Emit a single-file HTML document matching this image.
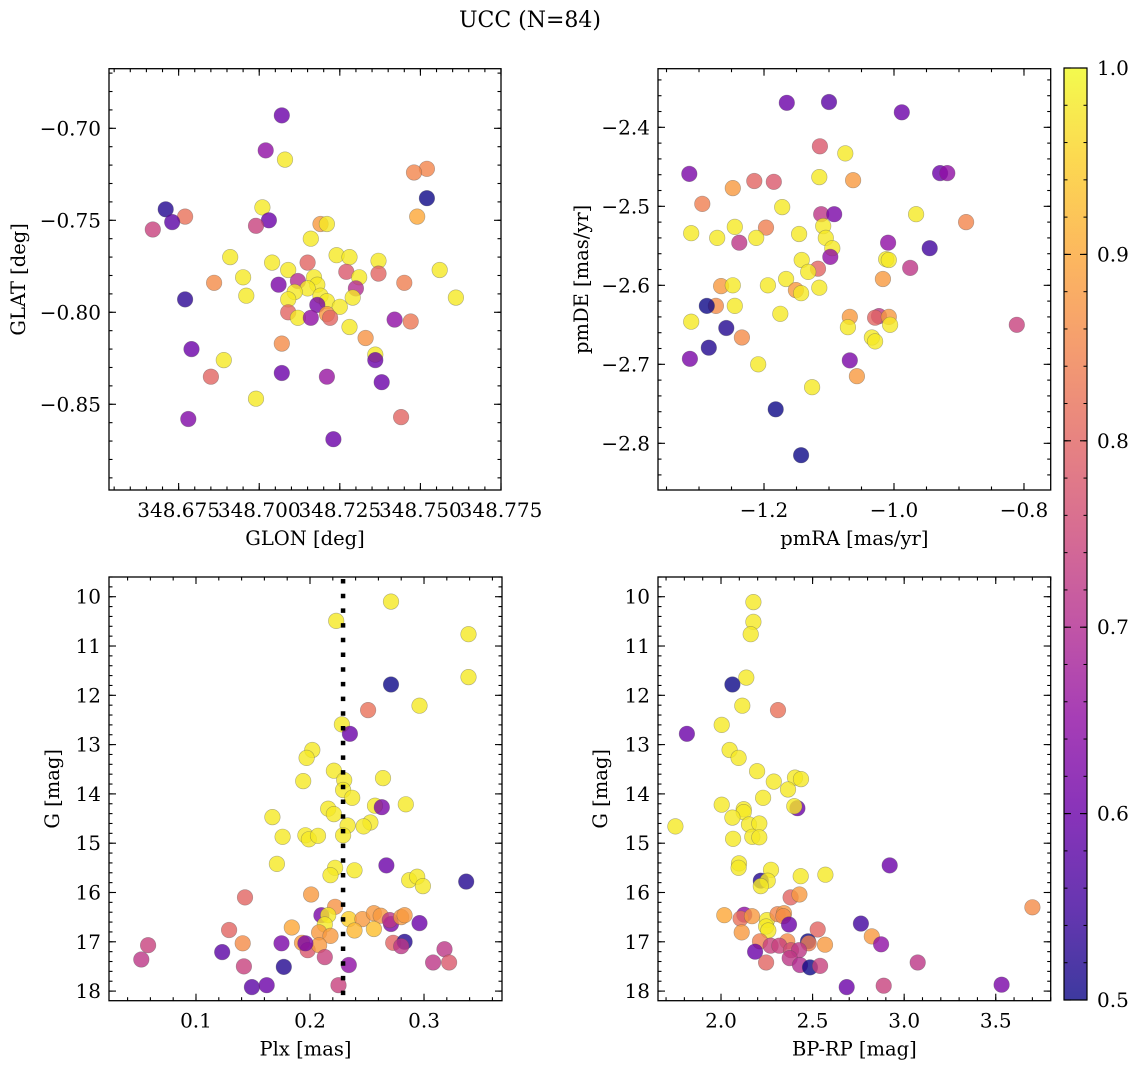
<!DOCTYPE html>
<html><head><meta charset="utf-8"><style>
html,body{margin:0;padding:0;background:#fff;}
svg{display:block;font-family:"DejaVu Serif","Liberation Serif",serif;}
</style></head><body>
<svg id="fig" width="1136" height="1067" viewBox="0 0 1136 1067" xmlns="http://www.w3.org/2000/svg">
<defs>
<linearGradient id="plasma" x1="0" y1="1" x2="0" y2="0">
<stop offset="0" stop-color="#0d0887"/><stop offset="0.1" stop-color="#41049d"/><stop offset="0.2" stop-color="#6a00a8"/><stop offset="0.3" stop-color="#8f0da4"/><stop offset="0.4" stop-color="#b12a90"/><stop offset="0.5" stop-color="#cc4778"/><stop offset="0.6" stop-color="#e16462"/><stop offset="0.7" stop-color="#f2844b"/><stop offset="0.8" stop-color="#fca636"/><stop offset="0.9" stop-color="#fcce25"/><stop offset="1" stop-color="#f0f921"/>
</linearGradient>
</defs>
<text x="530" y="27" font-size="22" text-anchor="middle">UCC (N=84)</text>
</svg>
<script>
// ---- Panel 1: GLON vs GLAT ----
const p1_glon=[348.707,348.702,348.708,348.752,348.748,348.752,348.671,348.677,348.701,348.703,348.673,348.667,348.749,348.719,348.721,348.699,348.716,348.724,348.728,348.704,348.691,348.737,348.715,348.709,348.756,348.727,348.737,348.731,348.717,348.686,348.706,348.695,348.712,348.718,348.715,348.711,348.745,348.696,348.730,348.719,348.729,348.677,348.709,348.721,348.761,348.718,348.725,348.709,348.712,348.721,348.722,348.716,348.742,348.747,348.728,348.733,348.707,348.679,348.736,348.736,348.689,348.685,348.707,348.721,348.738,348.699,348.744,348.678,348.723];
const p1_glat=[-0.693,-0.712,-0.717,-0.722,-0.724,-0.738,-0.744,-0.748,-0.743,-0.750,-0.751,-0.755,-0.748,-0.752,-0.752,-0.753,-0.760,-0.769,-0.770,-0.773,-0.770,-0.772,-0.773,-0.777,-0.777,-0.778,-0.779,-0.781,-0.781,-0.784,-0.785,-0.781,-0.783,-0.785,-0.787,-0.789,-0.784,-0.791,-0.787,-0.791,-0.792,-0.793,-0.793,-0.794,-0.792,-0.796,-0.797,-0.800,-0.803,-0.801,-0.803,-0.803,-0.804,-0.805,-0.808,-0.814,-0.817,-0.820,-0.823,-0.826,-0.826,-0.835,-0.833,-0.835,-0.838,-0.847,-0.857,-0.858,-0.869];
const p1_prob=[0.6,0.65,0.98,0.85,0.85,0.5,0.52,0.82,0.98,0.6,0.58,0.74,0.9,0.88,0.98,0.74,0.98,0.98,0.98,0.98,0.98,0.98,0.8,0.98,0.98,0.78,0.8,0.98,0.98,0.86,0.62,0.98,0.7,0.98,0.98,0.98,0.84,0.98,0.7,0.98,0.98,0.53,0.98,0.98,0.98,0.62,0.98,0.8,0.98,0.88,0.8,0.65,0.65,0.83,0.98,0.87,0.86,0.6,0.98,0.6,0.98,0.8,0.6,0.66,0.6,0.98,0.8,0.63,0.6];
const p1_xticks=[348.675,348.700,348.725,348.750,348.775];
const p1_yticks=[-0.70,-0.75,-0.80,-0.85];
// ---- Panel 2: pmRA vs pmDE ----
const p2_pmra=[-1.165,-1.100,-0.988,-1.315,-1.114,-1.075,-1.115,-1.063,-1.215,-1.185,-1.248,-1.295,-1.172,-0.929,-0.918,-0.966,-0.889,-1.112,-1.092,-1.312,-1.245,-1.197,-1.109,-1.146,-1.212,-1.105,-1.272,-1.095,-1.238,-0.945,-1.009,-1.012,-1.098,-1.142,-1.008,-0.975,-1.117,-1.132,-1.017,-1.166,-1.194,-1.151,-1.266,-1.248,-1.143,-1.274,-1.312,-1.175,-1.245,-1.068,-1.023,-1.029,-1.008,-1.006,-1.071,-1.288,-1.115,-1.258,-1.034,-1.029,-1.314,-1.285,-1.234,-1.068,-1.209,-1.057,-1.126,-1.182,-1.143,-0.811];
const p2_pmde=[-2.369,-2.368,-2.381,-2.459,-2.424,-2.433,-2.463,-2.467,-2.468,-2.469,-2.477,-2.497,-2.501,-2.458,-2.458,-2.510,-2.520,-2.510,-2.510,-2.534,-2.526,-2.527,-2.525,-2.535,-2.540,-2.540,-2.540,-2.553,-2.546,-2.553,-2.546,-2.567,-2.564,-2.568,-2.568,-2.578,-2.579,-2.583,-2.592,-2.592,-2.600,-2.606,-2.601,-2.600,-2.610,-2.626,-2.646,-2.636,-2.626,-2.640,-2.639,-2.641,-2.640,-2.650,-2.653,-2.626,-2.603,-2.654,-2.666,-2.671,-2.693,-2.679,-2.666,-2.695,-2.700,-2.715,-2.729,-2.757,-2.815,-2.650];
const p2_prob=[0.6,0.58,0.6,0.62,0.78,0.98,0.98,0.88,0.8,0.78,0.88,0.84,0.98,0.6,0.65,0.98,0.85,0.72,0.62,0.98,0.98,0.84,0.98,0.98,0.98,0.98,0.98,0.98,0.72,0.55,0.65,0.98,0.65,0.98,0.98,0.72,0.8,0.98,0.88,0.98,0.98,0.88,0.88,0.98,0.98,0.86,0.98,0.98,0.98,0.88,0.72,0.8,0.88,0.98,0.98,0.5,0.98,0.52,0.98,0.98,0.62,0.52,0.86,0.62,0.98,0.88,0.98,0.5,0.5,0.74];
const p2_xticks=[-1.2,-1.0,-0.8];
const p2_yticks=[-2.4,-2.5,-2.6,-2.7,-2.8];
// ---- Panel 3: Plx vs G ----
const p3_plx=[0.271,0.223,0.339,0.339,0.271,0.251,0.296,0.228,0.235,0.202,0.197,0.221,0.230,0.264,0.194,0.229,0.237,0.284,0.257,0.263,0.216,0.221,0.167,0.253,0.247,0.233,0.196,0.199,0.207,0.176,0.229,0.171,0.267,0.222,0.218,0.239,0.287,0.294,0.299,0.337,0.143,0.201,0.222,0.210,0.216,0.234,0.246,0.256,0.262,0.271,0.270,0.280,0.283,0.296,0.184,0.213,0.208,0.218,0.239,0.256,0.129,0.193,0.141,0.175,0.198,0.208,0.196,0.273,0.283,0.280,0.058,0.052,0.123,0.318,0.322,0.308,0.142,0.177,0.213,0.234,0.149,0.162,0.225];
const p3_g=[10.10,10.49,10.76,11.63,11.78,12.30,12.21,12.59,12.78,13.11,13.27,13.53,13.72,13.68,13.74,13.92,14.08,14.21,14.24,14.27,14.30,14.41,14.47,14.58,14.66,14.64,14.84,14.92,14.85,14.87,14.84,15.42,15.45,15.50,15.65,15.55,15.75,15.68,15.87,15.78,16.10,16.04,16.29,16.46,16.46,16.54,16.54,16.42,16.47,16.64,16.56,16.50,16.46,16.62,16.71,16.65,16.81,16.88,16.77,16.74,16.76,17.02,17.03,17.03,17.17,17.07,17.03,17.02,17.00,17.09,17.07,17.36,17.21,17.15,17.42,17.42,17.50,17.51,17.31,17.47,17.92,17.88,17.88];
const p3_prob=[0.98,0.98,0.98,0.98,0.5,0.82,0.98,0.98,0.6,0.98,0.98,0.98,0.98,0.98,0.98,0.98,0.98,0.98,0.98,0.62,0.98,0.98,0.98,0.98,0.98,0.98,0.98,0.98,0.98,0.98,0.98,0.98,0.6,0.98,0.98,0.98,0.98,0.98,0.98,0.52,0.8,0.88,0.87,0.62,0.98,0.95,0.88,0.88,0.88,0.62,0.72,0.88,0.88,0.6,0.9,0.98,0.88,0.88,0.92,0.93,0.8,0.88,0.86,0.62,0.78,0.88,0.62,0.8,0.52,0.72,0.74,0.72,0.58,0.72,0.78,0.72,0.74,0.52,0.74,0.65,0.58,0.6,0.74];
const p3_xticks=[0.1,0.2,0.3];
const g_ticks=[10,11,12,13,14,15,16,17,18];
const plx_ref=[0.229];
// ---- Panel 4: BP-RP vs G ----
const p4_bprp=[2.177,2.177,2.162,2.138,2.062,2.116,2.311,2.004,1.814,2.047,2.096,2.197,2.288,2.404,2.437,2.366,2.230,2.004,2.124,2.124,2.417,2.400,2.062,1.751,2.153,2.209,2.066,2.171,2.209,2.098,2.096,2.921,2.273,2.435,2.570,2.217,2.255,2.217,2.380,2.428,3.700,2.018,2.127,2.107,2.169,2.251,2.246,2.258,2.309,2.344,2.340,2.371,2.764,2.528,2.823,2.113,2.874,2.213,2.362,2.475,2.479,2.568,2.271,2.318,2.186,2.382,2.426,2.375,2.246,3.074,2.431,2.486,2.541,2.686,2.888,3.532];
const p4_g=[10.11,10.51,10.76,11.64,11.78,12.21,12.30,12.60,12.78,13.11,13.27,13.54,13.75,13.67,13.70,13.91,14.08,14.22,14.31,14.37,14.29,14.25,14.48,14.66,14.62,14.60,14.91,14.87,14.88,15.41,15.50,15.45,15.54,15.67,15.64,15.76,15.76,15.87,16.10,16.04,16.30,16.46,16.45,16.53,16.48,16.56,16.69,16.77,16.44,16.42,16.48,16.65,16.63,16.75,16.89,16.81,17.05,16.99,16.99,16.99,17.03,17.06,17.08,17.08,17.20,17.17,17.17,17.33,17.42,17.42,17.47,17.52,17.49,17.92,17.89,17.87];
const p4_prob=[0.98,0.98,0.98,0.98,0.5,0.98,0.82,0.98,0.6,0.98,0.98,0.98,0.98,0.98,0.98,0.98,0.98,0.98,0.98,0.98,0.6,0.98,0.98,0.98,0.98,0.98,0.98,0.98,0.98,0.98,0.98,0.6,0.98,0.98,0.98,0.52,0.98,0.98,0.8,0.88,0.86,0.9,0.65,0.82,0.88,0.98,0.98,0.98,0.85,0.88,0.86,0.6,0.55,0.8,0.88,0.88,0.65,0.84,0.86,0.5,0.84,0.88,0.74,0.74,0.6,0.76,0.72,0.72,0.8,0.72,0.7,0.5,0.74,0.6,0.74,0.62];
const p4_xticks=[2.0,2.5,3.0,3.5];
const cbar_ticks=[0.5,0.6,0.7,0.8,0.9,1.0];

const NS="http://www.w3.org/2000/svg";
const svg=document.getElementById('fig');
function mk(tag,attrs,parent){const e=document.createElementNS(NS,tag);for(const k in attrs)e.setAttribute(k,attrs[k]);(parent||svg).appendChild(e);return e;}
const stops=[[13,8,135],[65,4,157],[106,0,168],[143,13,164],[177,42,144],[204,71,120],[225,100,98],[242,132,75],[252,166,54],[252,206,37],[240,249,33]];
function plasma(p){let t=(p-0.5)/0.5;t=Math.max(0,Math.min(1,t))*10;const i=Math.min(9,Math.floor(t)),f=t-i;const a=stops[i],b=stops[i+1];return 'rgb('+a.map((v,j)=>Math.round(v+(b[j]-v)*f)).join(',')+')';}
function fmtMinus(s){return s.replace('-','\u2212');}
function rangeTicks(min,max,step){const out=[];for(let k=Math.ceil(min/step-1e-6);k*step<=max+1e-9;k++)out.push(k*step);return out;}

function panel(cfg){
  const g=mk('g',{});
  
  
  const L=cfg.box[0],T=cfg.box[1],R=cfg.box[2],B=cfg.box[3];
  const sx=v=>L+(v-cfg.xr[0])/(cfg.xr[1]-cfg.xr[0])*(R-L);
  const sy=v=>cfg.yinv? T+(v-cfg.yr[0])/(cfg.yr[1]-cfg.yr[0])*(B-T) : B-(v-cfg.yr[0])/(cfg.yr[1]-cfg.yr[0])*(B-T);
  const pts=mk('g',{},g);
  
  
  for(let i=0;i<cfg.xs.length;i++){
    const c=mk('circle',{cx:sx(cfg.xs[i]).toFixed(1),cy:sy(cfg.ys[i]).toFixed(1),r:7.8,fill:plasma(cfg.ps[i]),'fill-opacity':0.8,stroke:'#555','stroke-opacity':0.45,'stroke-width':0.6},pts);
    
    
  }
  if(cfg.vline){for(const v of cfg.vline){const l=mk('line',{x1:sx(v),x2:sx(v),y1:T+2,y2:B,stroke:'#000','stroke-width':4.5,'stroke-dasharray':'4.5 10.2'},g);
    
    }}
  const fr=mk('rect',{x:L,y:T,width:R-L,height:B-T,fill:'none',stroke:'#000','stroke-width':1.3},g);
  
  
  const tk=mk('g',{stroke:'#000','stroke-width':1.1},g);
  
  
  for(const v of rangeTicks(Math.min(...cfg.xr),Math.max(...cfg.xr),cfg.xminor)){const x=sx(v);mk('line',{x1:x,x2:x,y1:B,y2:B-3.5},tk);mk('line',{x1:x,x2:x,y1:T,y2:T+3.5},tk);}
  for(const v of rangeTicks(Math.min(...cfg.yr),Math.max(...cfg.yr),cfg.yminor)){const y=sy(v);mk('line',{x1:L,x2:L+3.5,y1:y,y2:y},tk);mk('line',{x1:R,x2:R-3.5,y1:y,y2:y},tk);}
  for(const v of cfg.xt){const x=sx(v);mk('line',{x1:x,x2:x,y1:B,y2:B-7},tk);mk('line',{x1:x,x2:x,y1:T,y2:T+7},tk);
    const t=mk('text',{x:x,y:B+27,'font-size':20,'text-anchor':'middle'},g);t.textContent=fmtMinus(cfg.xf(v));
    
    }
  for(const v of cfg.yt){const y=sy(v);mk('line',{x1:L,x2:L+7,y1:y,y2:y},tk);mk('line',{x1:R,x2:R-7,y1:y,y2:y},tk);
    const t=mk('text',{x:L-8,y:y+7,'font-size':20,'text-anchor':'end'},g);t.textContent=fmtMinus(cfg.yf(v));
    
    }
  const xl=mk('text',{x:(L+R)/2,y:B+55,'font-size':19.5,'text-anchor':'middle'},g);xl.textContent=cfg.xlabel;
  
  
  const yx=cfg.ylx,yy=(T+B)/2;
  const yl=mk('text',{x:yx,y:yy,'font-size':19.5,'text-anchor':'middle',transform:'rotate(-90 '+yx+' '+yy+')'},g);yl.textContent=cfg.ylabel;
  
  
}
panel({name:'glon-glat-panel',box:[109,68.7,501,490],xr:[348.6534,348.775],yr:[-0.8966,-0.6676],xs:p1_glon,ys:p1_glat,ps:p1_prob,xt:p1_xticks,yt:p1_yticks,xminor:0.005,yminor:0.01,xf:v=>v.toFixed(3),yf:v=>v.toFixed(2),xlabel:'GLON [deg]',ylabel:'GLAT [deg]',ylx:25});
panel({name:'proper-motion-panel',box:[658,68.7,1050.7,490],xr:[-1.3631,-0.7589],yr:[-2.8591,-2.3258],xs:p2_pmra,ys:p2_pmde,ps:p2_prob,xt:p2_xticks,yt:p2_yticks,xminor:0.05,yminor:0.02,xf:v=>v.toFixed(1),yf:v=>v.toFixed(1),xlabel:'pmRA [mas/yr]',ylabel:'pmDE [mas/yr]',ylx:588});
panel({name:'parallax-magnitude-panel',box:[109,577,502,1000.7],xr:[0.0237,0.3684],yr:[9.600,18.195],yinv:true,xs:p3_plx,ys:p3_g,ps:p3_prob,xt:p3_xticks,yt:g_ticks,xminor:0.02,yminor:0.2,xf:v=>v.toFixed(1),yf:v=>String(v),xlabel:'Plx [mas]',ylabel:'G [mag]',ylx:59,vline:plx_ref});
panel({name:'color-magnitude-panel',box:[658,577,1050.7,1000.7],xr:[1.656,3.800],yr:[9.600,18.195],yinv:true,xs:p4_bprp,ys:p4_g,ps:p4_prob,xt:p4_xticks,yt:g_ticks,xminor:0.1,yminor:0.2,xf:v=>v.toFixed(1),yf:v=>String(v),xlabel:'BP-RP [mag]',ylabel:'G [mag]',ylx:607});

(function(){
  const L=1064,R=1087,T=68,B=1000;
  const g=mk('g',{});
  
  
  mk('rect',{x:L,y:T,width:R-L,height:B-T,fill:'url(#plasma)','fill-opacity':0.8},g);
  mk('rect',{x:L,y:T,width:R-L,height:B-T,fill:'none',stroke:'#000','stroke-width':1.2},g);
  const sy=v=>B-(v-0.5)/0.5*(B-T);
  for(const v of rangeTicks(0.5,1.0,0.02)){const y=sy(v);mk('line',{x1:R,x2:R-3.5,y1:y,y2:y,stroke:'#000','stroke-width':1},g);mk('line',{x1:L,x2:L+3.5,y1:y,y2:y,stroke:'#000','stroke-width':1},g);}
  for(const v of cbar_ticks){const y=sy(v);mk('line',{x1:R,x2:R-7,y1:y,y2:y,stroke:'#000','stroke-width':1.1},g);mk('line',{x1:L,x2:L+7,y1:y,y2:y,stroke:'#000','stroke-width':1.1},g);
    const t=mk('text',{x:R+10,y:y+7,'font-size':20},g);t.textContent=v.toFixed(1);
    
    }
})();
</script>
</body></html>
